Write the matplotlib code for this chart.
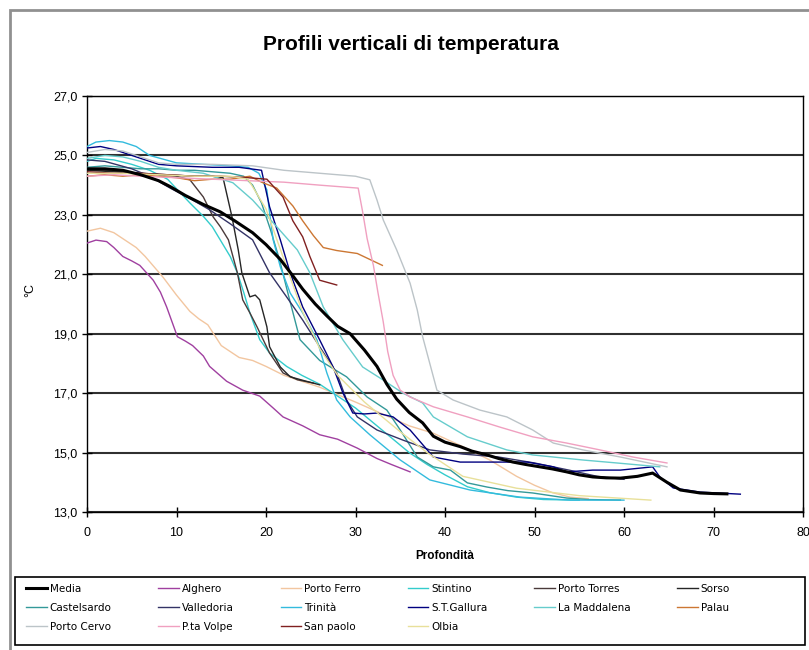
import matplotlib
matplotlib.use('Agg')
import matplotlib.pyplot as plt
from matplotlib.patches import Rectangle

plt.rcParams['font.family'] = ['Liberation Sans', 'DejaVu Sans']

# profondità (m) e temperatura (°C) per stazione
media_d = [0, 2, 4, 6, 8, 9.3, 11, 13, 14.9, 16.5, 18.5, 20, 21.6, 23, 24.1, 25.5, 26.8, 28, 29.4, 31,
           32.4, 33.5, 34.6, 36, 37.5, 38.7, 40, 41.7, 43, 44.7, 46, 47.6, 49, 50.6, 52, 53.6, 55, 56.5,
           58, 59.6, 61.5, 63.2, 64.8, 66.3, 68.5, 70, 71.5]
media_t = [24.55, 24.55, 24.5, 24.35, 24.15, 23.95, 23.65, 23.35, 23.1, 22.8, 22.4, 22.0, 21.5, 20.95,
           20.5, 20.0, 19.6, 19.25, 19.0, 18.45, 17.9, 17.3, 16.8, 16.35, 16.0, 15.55, 15.35, 15.2, 15.05,
           14.92, 14.8, 14.68, 14.6, 14.52, 14.45, 14.35, 14.25, 14.18, 14.15, 14.14, 14.2, 14.31, 14.0,
           13.74, 13.64, 13.62, 13.61]

alghero_d = [0, 1, 2.2, 3, 4, 5, 5.9, 7.4, 8.2, 8.9, 10.1, 11, 11.8, 13, 13.7, 15.6, 17.4, 19.3, 20.8,
             21.9, 24.1, 26, 28, 30.2, 32.4, 34, 36.1]
alghero_t = [22.05, 22.15, 22.1, 21.9, 21.6, 21.45, 21.3, 20.8, 20.4, 19.9, 18.9, 18.75, 18.6, 18.25,
             17.9, 17.4, 17.1, 16.9, 16.5, 16.2, 15.9, 15.6, 15.45, 15.15, 14.8, 14.6, 14.35]

portoferro_d = [0, 1.5, 3, 4, 5.5, 6.5, 8.5, 10, 11.5, 12.5, 13.5, 15, 17, 18.5, 20, 22, 24, 26, 28, 30,
                33, 36, 38.7, 42, 45, 48, 50, 52, 54, 56]
portoferro_t = [22.45, 22.55, 22.4, 22.2, 21.9, 21.6, 20.9, 20.3, 19.75, 19.5, 19.3, 18.6, 18.2, 18.1,
                17.9, 17.6, 17.4, 17.2, 16.95, 16.7, 16.3, 15.9, 15.65, 15.2, 14.75, 14.2, 13.9, 13.65,
                13.5, 13.45]

stintino_d = [0, 1, 3, 5, 7, 9, 10.4, 11.5, 13, 14, 14.9, 16, 16.8, 17.5, 18.2, 19.3, 20.4, 22.3, 24, 26,
              28, 30, 32, 34, 36, 38, 40, 42.5, 45, 48, 51, 55]
stintino_t = [24.8, 24.9, 24.85, 24.7, 24.5, 24.2, 23.75, 23.4, 22.95, 22.6, 22.15, 21.6, 21.05, 20.4,
              19.7, 18.8, 18.35, 17.9, 17.6, 17.3, 16.9, 16.5, 16.0, 15.5, 15.0, 14.6, 14.25, 13.85,
              13.65, 13.5, 13.42, 13.4]

portotorres_d = [0, 2, 4, 6, 8, 10, 11.5, 13, 14.1, 14.9, 15.8, 16.8, 17.4, 18.2, 19, 20.4, 21.9, 23.5, 25.3]
portotorres_t = [24.5, 24.5, 24.45, 24.4, 24.35, 24.3, 24.18, 23.6, 22.93, 22.6, 22.16, 21.05, 20.14,
                 19.7, 19.23, 18.35, 17.68, 17.45, 17.34]

sorso_d = [0, 3, 6, 9, 12, 14, 15.2, 16.2, 16.9, 17.3, 18.2, 18.8, 19.3, 20.1, 20.4, 21.6, 22.7, 24.5, 26]
sorso_t = [24.5, 24.45, 24.4, 24.35, 24.3, 24.3, 24.25, 22.93, 21.82, 21.05, 20.24, 20.3, 20.14, 19.23,
           18.56, 17.88, 17.55, 17.4, 17.28]

castelsardo_d = [0, 2, 4, 6, 8, 10, 12, 14, 16, 17.5, 18.5, 19.5, 20.5, 21.5, 22.5, 23.8, 26, 29, 31.3,
                 33.5, 35, 36.9, 38.7, 40.6, 42.5, 44.7, 47, 49.8, 53.6, 56, 59.6]
castelsardo_t = [24.6, 24.65, 24.6, 24.55, 24.55, 24.5, 24.5, 24.45, 24.4, 24.3, 24.0, 23.4, 22.5, 21.5,
                 20.3, 18.8, 18.1, 17.55, 16.87, 16.43, 15.76, 14.85, 14.52, 14.41, 13.98, 13.84, 13.72,
                 13.64, 13.47, 13.42, 13.4]

valledoria_d = [0, 2, 5, 7, 9.3, 11.5, 13.7, 16, 18.5, 20.4, 22.3, 24.1, 26, 27.9, 29, 30.2, 32.4, 35.3,
                38.3, 42, 46, 50, 54, 57, 60]
valledoria_t = [24.85, 24.8, 24.55, 24.3, 23.9, 23.55, 23.17, 22.7, 22.16, 21.05, 20.24, 19.46, 18.56,
                17.68, 16.77, 16.2, 15.76, 15.42, 15.09, 14.95, 14.85, 14.65, 14.4, 14.2, 14.1]

trinita_d = [0, 1, 2.5, 4, 5.5, 7, 10, 13, 16, 18, 19.2, 20.1, 20.4, 20.8, 21.6, 22.7, 24.1, 25.7, 26.8,
             27.9, 29.4, 31.6, 35, 38.3, 42.8, 48.4, 54, 60]
trinita_t = [25.3, 25.45, 25.5, 25.45, 25.3, 25.0, 24.75, 24.7, 24.65, 24.6, 24.4, 23.84, 23.07, 22.16,
             21.25, 20.37, 19.7, 18.79, 17.68, 16.77, 16.2, 15.6, 14.75, 14.08, 13.74, 13.5, 13.4, 13.4]

stgallura_d = [0, 1.5, 3, 4.5, 6, 8, 10, 14, 17, 19.5, 20.4, 21.6, 22.7, 24.1, 26, 27.5, 28.6, 29.7, 31,
               32.4, 34.2, 36.1, 38.7, 41.7, 46.1, 49.2, 52.1, 53.6, 56.5, 59.6, 63.2, 64, 65.5, 68.5, 73]
stgallura_t = [25.25, 25.3, 25.2, 25.05, 24.9, 24.7, 24.65, 24.6, 24.6, 24.5, 23.27, 22.16, 21.05, 19.9,
               18.79, 17.88, 17.0, 16.33, 16.3, 16.33, 16.2, 15.76, 14.85, 14.68, 14.68, 14.68, 14.52,
               14.35, 14.41, 14.41, 14.52, 14.18, 13.81, 13.67, 13.6]

maddalena_d = [0, 2, 4, 6, 8, 10, 13, 16.3, 18.5, 21.2, 23.5, 24.9, 26.4, 28.6, 30.8, 33.1, 35.3, 37.5,
               38.7, 42.5, 46.9, 49.8, 55.4, 59.2, 64]
maddalena_t = [24.9, 25.0, 24.95, 24.8, 24.6, 24.5, 24.4, 24.08, 23.5, 22.6, 21.82, 21.05, 19.9, 18.79,
               17.88, 17.44, 17.0, 16.67, 16.2, 15.53, 15.09, 14.92, 14.75, 14.65, 14.52]

palau_d = [0, 2, 4, 6, 8, 10, 12, 14, 16, 18.2, 19.5, 21.2, 23, 24.1, 25.3, 26.4, 27.9, 30.2, 31.6, 33]
palau_t = [24.3, 24.35, 24.3, 24.35, 24.3, 24.25, 24.15, 24.2, 24.2, 24.3, 24.1, 23.9, 23.3, 22.8, 22.3,
           21.9, 21.8, 21.7, 21.5, 21.3]

portocervo_d = [0, 2, 4, 6, 8, 10, 14, 18.5, 22, 26, 30, 31.6, 32.4, 33.1, 34.6, 36.1, 36.9, 37.5, 38.3,
                39.1, 40.9, 43.9, 46.9, 49.8, 52.1, 55.4, 59.6, 64.8]
portocervo_t = [25.1, 25.2, 25.15, 24.95, 24.75, 24.7, 24.7, 24.65, 24.5, 24.4, 24.3, 24.18, 23.5, 22.83,
                21.82, 20.7, 19.8, 18.9, 18.0, 17.1, 16.77, 16.43, 16.2, 15.76, 15.32, 15.09, 14.85, 14.52]

ptavolpe_d = [0, 3, 6, 10, 14, 18, 22, 26, 30.3, 30.8, 31.3, 32.0, 32.5, 33.1, 33.6, 34.2, 35.0, 36.1,
              38.7, 42.5, 46.1, 49.8, 53.6, 57.3, 61, 64.8]
ptavolpe_t = [24.3, 24.35, 24.3, 24.25, 24.2, 24.15, 24.1, 24.0, 23.9, 23.1, 22.2, 21.3, 20.4, 19.4,
              18.4, 17.6, 17.1, 16.87, 16.54, 16.2, 15.86, 15.53, 15.32, 15.09, 14.85, 14.65]

sanpaolo_d = [0, 3, 6, 9, 12, 15, 18, 20.1, 21.9, 23, 24.1, 24.9, 26, 27.9]
sanpaolo_t = [24.45, 24.4, 24.4, 24.35, 24.3, 24.3, 24.25, 24.2, 23.6, 22.8, 22.26, 21.6, 20.8, 20.64]

olbia_d = [0, 4, 8, 12, 16, 18, 20, 22, 24, 26, 28, 31, 35, 38, 42, 48, 55, 63]
olbia_t = [24.4, 24.4, 24.35, 24.3, 24.3, 24.2, 23.2, 21.5, 19.8, 18.5, 17.6, 16.7, 15.7, 15.0, 14.2,
           13.8, 13.55, 13.4]

stazioni = ['Media', 'Alghero', 'Porto Ferro', 'Stintino', 'Porto Torres', 'Sorso',
            'Castelsardo', 'Valledoria', 'Trinità', 'S.T.Gallura', 'La Maddalena', 'Palau',
            'Porto Cervo', 'P.ta Volpe', 'San paolo', 'Olbia']
profondita = [media_d, alghero_d, portoferro_d, stintino_d, portotorres_d, sorso_d,
              castelsardo_d, valledoria_d, trinita_d, stgallura_d, maddalena_d, palau_d,
              portocervo_d, ptavolpe_d, sanpaolo_d, olbia_d]
temperature = [media_t, alghero_t, portoferro_t, stintino_t, portotorres_t, sorso_t,
               castelsardo_t, valledoria_t, trinita_t, stgallura_t, maddalena_t, palau_t,
               portocervo_t, ptavolpe_t, sanpaolo_t, olbia_t]
colori = ['#000000', '#a040a0', '#f2c6a0', '#33cccc', '#4a3a3a', '#262626',
          '#339999', '#333366', '#33bbdd', '#000080', '#66cccc', '#cc7733',
          '#bcc4c8', '#f0a0c0', '#802020', '#e8e09a']

y_ticks = [13, 15, 17, 19, 21, 23, 25, 27]
y_labels = ['13,0', '15,0', '17,0', '19,0', '21,0', '23,0', '25,0', '27,0']
x_ticks = [0, 10, 20, 30, 40, 50, 60, 70, 80]

fig = plt.figure(figsize=(8.09, 6.5), dpi=100)
ax = fig.add_axes([87/809, 1-512/650, (803-87)/809, (512-96)/650])

lines = []
for i in range(len(stazioni)):
    lw = 2.2 if i == 0 else 1.0
    z = 5 if i == 0 else 3
    l, = ax.plot(profondita[i], temperature[i], color=colori[i], lw=lw, zorder=z, label=stazioni[i])
    lines.append(l)

ax.set_xlim(0, 80)
ax.set_ylim(13, 27)
ax.set_xticks(x_ticks)
ax.set_yticks(y_ticks)
ax.set_yticklabels(y_labels)
ax.tick_params(axis='both', direction='inout', length=7, width=1, labelsize=9, colors='black')
ax.tick_params(axis='x', pad=7)
ax.yaxis.grid(True, color='#303030', lw=1.5)
ax.set_axisbelow(True)
for s in ax.spines.values():
    s.set_color('black')
    s.set_linewidth(1.0)

ax.set_xlabel('Profondità', fontsize=8.5, fontweight='bold', labelpad=8)
fig.text(30/809, 1-290/650, '°C', rotation=90, fontsize=9, ha='center', va='center')
fig.text(411/809, 1-45/650, 'Profili verticali di temperatura', fontsize=15, fontweight='bold',
         ha='center', va='center')

# ordine riga per riga come nella legenda originale
ncol = 6
ordine = []
for c in range(ncol):
    ordine += list(range(c, len(stazioni), ncol))
leg = fig.legend([lines[k] for k in ordine], [stazioni[k] for k in ordine],
                 loc='upper left', bbox_to_anchor=(23/809, 1-581/650),
                 ncol=ncol, prop={'family': 'DejaVu Sans', 'size': 7.5},
                 handlelength=2.0, handletextpad=0.25, columnspacing=4.5,
                 frameon=False, borderaxespad=0, labelspacing=0.85, borderpad=0.3)

fig.patches.append(Rectangle((15/809, 1-645/650), 790/809, 68/650, transform=fig.transFigure,
                             fill=False, edgecolor='black', lw=1.2))
fig.patches.append(Rectangle((10/809, -0.1), 1.0, 1 - 10/650 + 0.1, transform=fig.transFigure,
                             fill=False, edgecolor='#909090', lw=2.0))

fig.savefig('out.png', dpi=100)
